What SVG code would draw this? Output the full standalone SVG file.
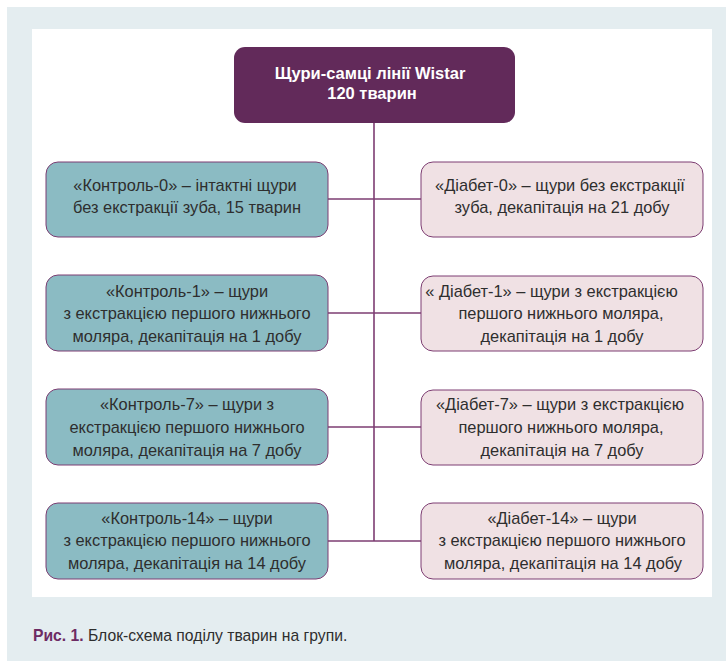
<svg xmlns="http://www.w3.org/2000/svg" width="726" height="661" viewBox="0 0 726 661">
<style>
.t{font-family:"Liberation Sans",Arial,sans-serif;font-size:16.4px;fill:#2e2e2e;text-anchor:middle}
.h{font-family:"Liberation Sans",Arial,sans-serif;font-size:16.5px;font-weight:bold;fill:#ffffff;text-anchor:middle}
.c{fill:#8bbbc3;stroke:#7d3d72;stroke-width:1}
.d{fill:#f0e1e4;stroke:#7d3d72;stroke-width:1}
.ln{stroke:#7d3d72;stroke-width:1.6;fill:none}
.cap{font-family:"Liberation Sans",Arial,sans-serif;font-size:15.7px;fill:#2e2e2e}
</style>
<rect x="0" y="0" width="726" height="661" fill="#ffffff"/>
<rect x="7" y="7" width="719" height="654" fill="#e4edf0"/>
<rect x="32" y="29" width="680" height="568" fill="#ffffff"/>
<g id="connectors">
<line class="ln" x1="374" y1="123" x2="374" y2="541"/>
<line class="ln" x1="328" y1="199" x2="421" y2="199"/>
<line class="ln" x1="328" y1="313" x2="421" y2="313"/>
<line class="ln" x1="328" y1="427" x2="421" y2="427"/>
<line class="ln" x1="328" y1="541" x2="421" y2="541"/>
</g>
<g id="root">
<rect x="234" y="47" width="281" height="76" rx="11" fill="#622a5a"/>
<text class="h" x="370" y="79">Щури-самці лінії Wistar</text>
<text class="h" x="372" y="99">120 тварин</text>
</g>
<g id="control0">
<rect class="c" x="46" y="162" width="282" height="75" rx="12"/>
<text class="t" x="185" y="191">«Контроль-0» – інтактні щури</text>
<text class="t" x="187" y="213">без екстракції зуба, 15 тварин</text>
</g>
<g id="diabet0">
<rect class="d" x="421" y="162" width="282" height="75" rx="12"/>
<text class="t" x="560" y="191">«Діабет-0» – щури без екстракції</text>
<text class="t" x="562" y="213">зуба, декапітація на 21 добу</text>
</g>
<g id="control1">
<rect class="c" x="46" y="275" width="282" height="76" rx="12"/>
<text class="t" x="187" y="297">«Контроль-1» – щури</text>
<text class="t" x="187" y="319">з екстракцією першого нижнього</text>
<text class="t" x="187" y="342">моляра, декапітація на 1 добу</text>
</g>
<g id="diabet1">
<rect class="d" x="421" y="276" width="282" height="75" rx="12"/>
<text class="t" x="551.5" y="297">« Діабет-1» – щури з екстракцією</text>
<text class="t" x="561" y="319">першого нижнього моляра,</text>
<text class="t" x="562" y="342">декапітація на 1 добу</text>
</g>
<g id="control7">
<rect class="c" x="46" y="389" width="282" height="76" rx="12"/>
<text class="t" x="187" y="410">«Контроль-7» – щури з</text>
<text class="t" x="187" y="433">екстракцією першого нижнього</text>
<text class="t" x="187" y="456">моляра, декапітація на 7 добу</text>
</g>
<g id="diabet7">
<rect class="d" x="421" y="390" width="282" height="75" rx="12"/>
<text class="t" x="560" y="410">«Діабет-7» – щури з екстракцією</text>
<text class="t" x="561" y="433">першого нижнього моляра,</text>
<text class="t" x="562" y="456">декапітація на 7 добу</text>
</g>
<g id="control14">
<rect class="c" x="46" y="503" width="282" height="76" rx="12"/>
<text class="t" x="187" y="524">«Контроль-14» – щури</text>
<text class="t" x="187" y="546">з екстракцією першого нижнього</text>
<text class="t" x="187" y="569">моляра, декапітація на 14 добу</text>
</g>
<g id="diabet14">
<rect class="d" x="421" y="503" width="282" height="76" rx="12"/>
<text class="t" x="562" y="524">«Діабет-14» – щури</text>
<text class="t" x="562" y="546">з екстракцією першого нижнього</text>
<text class="t" x="563" y="569">моляра, декапітація на 14 добу</text>
</g>
<text class="cap" x="33" y="641"><tspan font-weight="bold" fill="#6d2b63">Рис. 1.</tspan> Блок-схема поділу тварин на групи.</text>
</svg>
